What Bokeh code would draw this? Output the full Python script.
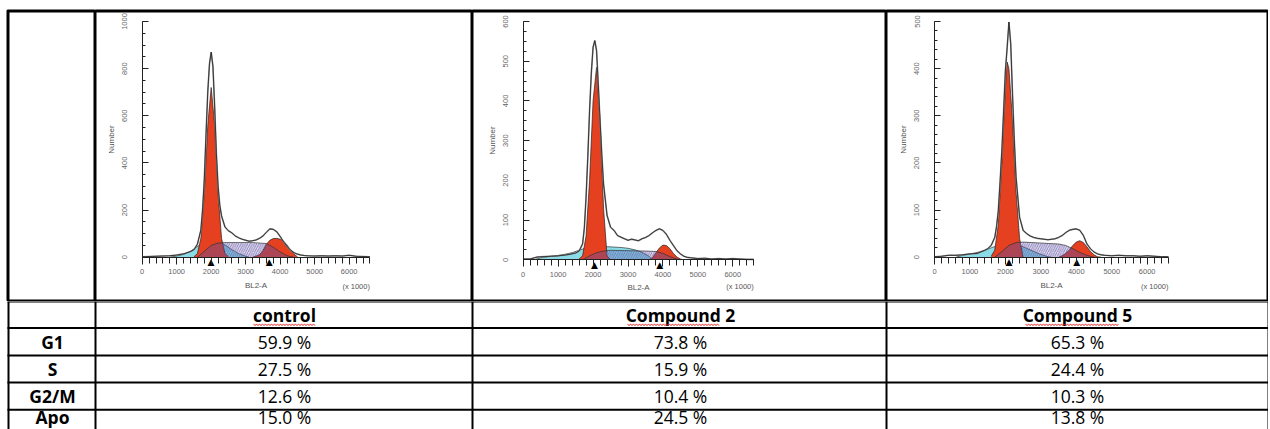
import numpy as np
from bokeh.plotting import figure
from bokeh.layouts import column, row
from bokeh.models import Range1d, SingleIntervalTicker
from bokeh.embed import file_html
from bokeh.resources import INLINE
from bokeh.core.properties import value

# ---------------- table data ----------------
conditions = ["control", "Compound 2", "Compound 5"]
phases = ["G1", "S", "G2/M", "Apo"]
pct_control = [59.9, 27.5, 12.6, 15.0]
pct_compound2 = [73.8, 15.9, 10.4, 24.5]
pct_compound5 = [65.3, 24.4, 10.3, 13.8]

# ---------------- histogram data (BL2-A, x1000) ----------------
hist_x = [0, 200, 400, 600, 800, 1000, 1200, 1400, 1500, 1600, 1700, 1750, 1800, 1850,
          1900, 1950, 2000, 2050, 2100, 2150, 2200, 2250, 2300, 2400, 2500, 2600, 2700,
          2800, 2900, 3000, 3100, 3200, 3300, 3400, 3500, 3600, 3700, 3800, 3900, 4000,
          4100, 4200, 4300, 4400, 4500, 4600, 4700, 4800, 5000, 5200, 5400, 5600, 5800,
          6000, 6200, 6400, 6600]
ctrl_counts = [2, 3, 4, 5, 6, 9, 14, 24, 32, 55, 115, 200, 330, 520,
               700, 820, 870, 810, 640, 440, 300, 220, 175, 128, 112, 103, 90,
               82, 76, 72, 68, 70, 73, 80, 90, 106, 120, 118, 108, 88,
               65, 45, 30, 19, 13, 9, 7, 6, 5, 6, 5, 6, 5,
               8, 4, 3, 2]
c2_counts = [2, 2, 7, 8, 9, 10, 12, 15, 17, 22, 40, 80, 158, 260,
             376, 470, 535, 552, 527, 440, 350, 265, 191, 112, 82, 74, 61,
             57, 53, 49, 52, 50, 48, 53, 56, 61, 68, 74, 78, 74,
             64, 49, 36, 23, 15, 9, 6, 5, 3, 4, 2, 3, 2,
             3, 2, 1, 1]
c5_counts = [1, 2, 4, 4, 5, 7, 8, 14, 18, 25, 42, 65, 99, 160,
             226, 310, 396, 445, 499, 453, 347, 250, 170, 85, 57, 50, 45,
             42, 40, 39, 38, 37, 38, 39, 42, 46, 52, 57, 59, 60,
             57, 46, 28, 18, 11, 7, 5, 4, 3, 4, 3, 3, 2,
             3, 2, 1, 1]

# model components: control
ctrl_g1_x = [1500, 1600, 1700, 1800, 1900, 2000, 2100, 2200, 2300, 2400, 2500]
ctrl_g1_y = [2, 15, 80, 270, 560, 720, 560, 270, 80, 15, 2]
ctrl_g2_x = [3200, 3400, 3500, 3600, 3700, 3800, 3900, 4000, 4100, 4200, 4300, 4400, 4500]
ctrl_g2_y = [0, 10, 28, 55, 72, 79, 80, 76, 68, 52, 30, 12, 2]
ctrl_s_x = [1600, 1800, 2000, 2200, 2400, 2800, 3200, 3600, 3800, 4000, 4200, 4400]
ctrl_s_y = [0, 25, 50, 60, 62, 62, 62, 58, 42, 22, 6, 0]
ctrl_apo_x = [800, 1000, 1200, 1400, 1600, 1800, 2000, 2200, 2400, 2600, 2800, 3000, 3100]
ctrl_apo_y = [0, 5, 12, 25, 45, 62, 70, 66, 52, 32, 15, 4, 0]
ctrl_marks = [1990, 3680]

# model components: Compound 2
c2_g1_x = [1600, 1700, 1800, 1900, 2000, 2100, 2200, 2300, 2400, 2500]
c2_g1_y = [2, 10, 60, 200, 400, 485, 350, 130, 10, 0]
c2_g2_x = [3600, 3700, 3800, 3900, 4000, 4100, 4200, 4300, 4400, 4500, 4600]
c2_g2_y = [0, 5, 18, 30, 37, 36, 28, 16, 7, 2, 0]
c2_s_x = [1700, 1900, 2100, 2300, 2500, 3000, 3500, 3800, 4000, 4200, 4400, 4500]
c2_s_y = [0, 10, 18, 22, 24, 23, 22, 21, 16, 8, 2, 0]
c2_apo_x = [300, 500, 800, 1000, 1200, 1400, 1600, 1800, 2000, 2200, 2400, 2600, 2800,
            3000, 3200, 3400, 3600, 3700]
c2_apo_y = [0, 5, 9, 11, 14, 18, 24, 30, 33, 34, 33, 32, 31, 29, 25, 19, 9, 0]
c2_marks = [2040, 3910]

# model components: Compound 5
c5_g1_x = [1600, 1700, 1800, 1900, 2000, 2050, 2100, 2200, 2300, 2400, 2500]
c5_g1_y = [2, 15, 70, 200, 360, 414, 400, 290, 140, 40, 0]
c5_g2_x = [3500, 3600, 3700, 3800, 3900, 4000, 4100, 4200, 4300, 4400, 4500, 4600, 4700]
c5_g2_y = [0, 3, 8, 15, 25, 32, 35, 31, 22, 12, 5, 1, 0]
c5_s_x = [1700, 1900, 2100, 2300, 2500, 3000, 3500, 3700, 3900, 4100, 4300, 4500]
c5_s_y = [0, 12, 25, 31, 32, 30, 28, 25, 18, 10, 4, 0]
c5_apo_x = [600, 800, 1000, 1200, 1400, 1600, 1800, 2000, 2200, 2400, 2600, 2800, 3000,
            3200, 3300]
c5_apo_y = [0, 4, 7, 10, 14, 20, 25, 28, 28, 25, 19, 12, 6, 1, 0]
c5_marks = [2100, 4010]

# ---------------- styling / layout ----------------
RED = "#E5401F"
CYAN = "#8ADDE8"
HATCH = "#5E5CB5"
AXFONT = "Liberation Sans"
TFONT = "Open Sans"
TOP = 10          # white space above the table
ROW_BOTTOM = 301  # bottom edge of the chart row


def base_fig(w, h, **kw):
    return figure(width=w, height=h, toolbar_location=None, output_backend="svg", **kw)


def label_cell():
    # empty top-left cell, page pixel coordinates
    f = base_fig(95, ROW_BOTTOM, x_range=Range1d(7, 95), y_range=Range1d(ROW_BOTTOM, TOP),
                 min_border_left=7, min_border_right=0, min_border_top=TOP,
                 min_border_bottom=0, x_axis_type=None, y_axis_type=None)
    f.outline_line_color = "black"
    f.outline_line_width = 2
    f.segment(x0=[8, 7], y0=[TOP, 11], x1=[8, 95], y1=[ROW_BOTTOM, 11],
              line_color="black", line_width=2)
    return f


def panel(cx0, cx1, px0, px6000, py0, pytop, counts, g1, g2, s, apo, marks,
          ymax, ystep, yminor):
    sx = (px6000 - px0) / 6000.0
    sy = (py0 - pytop) / float(ymax)

    def xd(px):
        return (px - px0) / sx

    def yd(py):
        return (py0 - py) / sy

    p = base_fig(cx1 - cx0, ROW_BOTTOM,
                 x_range=Range1d(xd(cx0), xd(cx1)),
                 y_range=Range1d(yd(ROW_BOTTOM), yd(TOP)),
                 min_border_left=0, min_border_right=0, min_border_top=TOP,
                 min_border_bottom=0)
    p.outline_line_color = "black"
    p.outline_line_width = 2
    p.grid.visible = False
    p.background_fill_color = "white"
    p.segment(x0=[xd(cx0)], y0=[yd(11)], x1=[xd(cx1)], y1=[yd(11)],
              line_color="black", line_width=2)

    # debris / apoptotic
    p.varea(x=apo[0], y1=0, y2=apo[1], fill_color=CYAN)
    p.line(apo[0], apo[1], line_color="#333333", line_width=0.7)
    # G1 / G2 peaks
    for comp in (g1, g2):
        p.varea(x=comp[0], y1=0, y2=comp[1], fill_color=RED)
        p.line(comp[0], comp[1], line_color="#222222", line_width=0.7)
    # S phase
    p.varea(x=s[0], y1=0, y2=s[1], fill_color="#5A2D82", fill_alpha=0.18,
            hatch_pattern="/", hatch_color=HATCH, hatch_scale=4.5, hatch_weight=0.8,
            hatch_alpha=0.85)
    p.line(s[0], s[1], line_color="#333333", line_width=0.7)
    # raw histogram + fit
    p.line(hist_x, counts, line_color="#8c8c8c", line_width=1.6)
    p.line(hist_x, counts, line_color="#111111", line_width=0.7)

    # peak position markers
    p.text(x=marks, y=[0] * len(marks), text=["\u25B2"] * len(marks),
           text_align="center", text_baseline="top", text_font_size="9px",
           text_font=value("DejaVu Sans"), text_color="black")
    p.text(x=[6600], y=[yd(286)], text=["(x 1000)"], text_align="right",
           text_baseline="middle", text_font_size="7.5px", text_font=value(AXFONT),
           text_color="#555555")

    xa = p.xaxis[0]
    xa.fixed_location = 0
    xa.bounds = (0, 6600)
    xa.ticker = SingleIntervalTicker(interval=1000, num_minor_ticks=5)
    xa.axis_label = "BL2-A"
    xa.major_tick_in = 0
    xa.major_tick_out = 7
    xa.minor_tick_in = 0
    xa.minor_tick_out = 6
    xa.major_label_standoff = 5
    xa.axis_label_standoff = 3

    ya = p.yaxis[0]
    ya.fixed_location = 0
    ya.bounds = (0, ymax)
    ya.ticker = SingleIntervalTicker(interval=ystep, num_minor_ticks=yminor)
    ya.axis_label = "Number"
    ya.major_tick_in = 6
    ya.major_tick_out = 0
    ya.minor_tick_in = 3
    ya.minor_tick_out = 0
    ya.major_label_orientation = "vertical"
    ya.major_label_standoff = 15
    ya.axis_label_standoff = 4

    for ax in (xa, ya):
        ax.axis_line_color = "#222222"
        ax.major_tick_line_color = "#222222"
        ax.minor_tick_line_color = "#222222"
        ax.major_label_text_font = AXFONT
        ax.major_label_text_font_size = "7.5px"
        ax.major_label_text_color = "#666666"
        ax.axis_label_text_font = AXFONT
        ax.axis_label_text_font_size = "8px"
        ax.axis_label_text_font_style = "normal"
        ax.axis_label_text_color = "#555555"
    return p


p1 = panel(95, 472, 141.7, 348.7, 256.7, 21, ctrl_counts, (ctrl_g1_x, ctrl_g1_y),
           (ctrl_g2_x, ctrl_g2_y), (ctrl_s_x, ctrl_s_y), (ctrl_apo_x, ctrl_apo_y),
           ctrl_marks, 1000, 200, 4)
p2 = panel(472, 886, 522.7, 732.3, 259.3, 21, c2_counts, (c2_g1_x, c2_g1_y),
           (c2_g2_x, c2_g2_y), (c2_s_x, c2_s_y), (c2_apo_x, c2_apo_y),
           c2_marks, 600, 100, 4)
p3 = panel(886, 1268, 934, 1146.7, 256.7, 21, c5_counts, (c5_g1_x, c5_g1_y),
           (c5_g2_x, c5_g2_y), (c5_s_x, c5_s_y), (c5_apo_x, c5_apo_y),
           c5_marks, 500, 100, 5)

chart_row = row(label_cell(), p1, p2, p3, spacing=0)

# ---------------- table ----------------
col_lines = [8, 95, 472, 886, 1268]
row_lines = [301, 327.5, 355, 382, 409.3]
col_centers = [52, 284, 680, 1077]
head_y = 314
row_y = [341, 368, 395, 416.5]

tbl = base_fig(1268, 429 - ROW_BOTTOM, x_range=Range1d(0, 1268),
               y_range=Range1d(429, ROW_BOTTOM), min_border=0,
               x_axis_type=None, y_axis_type=None)
tbl.outline_line_color = None
tbl.segment(x0=[7] * len(row_lines), y0=row_lines, x1=[1268] * len(row_lines), y1=row_lines,
            line_color="black", line_width=2)
tbl.segment(x0=col_lines, y0=[ROW_BOTTOM] * len(col_lines), x1=col_lines,
            y1=[429] * len(col_lines), line_color="black", line_width=2)

tbl.text(x=col_centers[1:], y=[head_y] * 3, text=conditions, text_align="center",
         text_baseline="middle", text_font=value(TFONT), text_font_style="bold",
         text_font_size="17.5px", text_color="black")
tbl.text(x=[col_centers[0]] * 4, y=row_y, text=phases, text_align="center",
         text_baseline="middle", text_font=value(TFONT), text_font_style="bold",
         text_font_size="17.5px", text_color="black")
for ci, vals in enumerate([pct_control, pct_compound2, pct_compound5]):
    tbl.text(x=[col_centers[ci + 1]] * 4, y=row_y, text=[f"{v:.1f} %" for v in vals],
             text_align="center", text_baseline="middle", text_font=value(TFONT),
             text_font_size="17.5px", text_color="black")

# spell-check squiggles under the column headers
squiggles = [(253, 315), (627, 719), (1025, 1119)]
for x0, x1 in squiggles:
    sx_ = np.arange(x0, x1 + 0.1, 1.5)
    sy_ = 324.3 + np.where(np.arange(len(sx_)) % 2 == 0, -0.9, 0.9)
    tbl.line(sx_, sy_, line_color="#E02020", line_width=0.9)

layout = column(chart_row, tbl, spacing=0)
open("out.html", "w").write(file_html(layout, INLINE))
